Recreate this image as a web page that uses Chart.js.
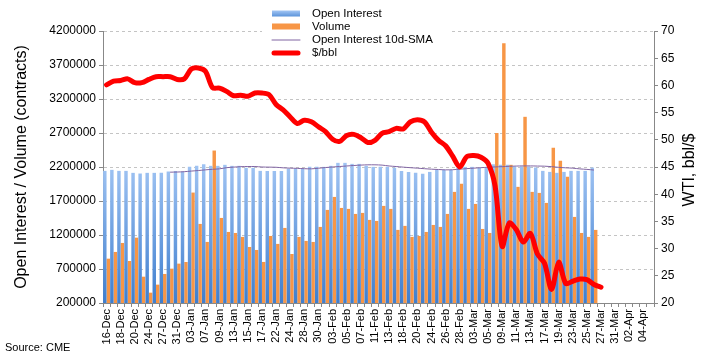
<!DOCTYPE html>
<html lang="en">
<head>
  <meta charset="UTF-8">
  <title>WTI Open Interest / Volume</title>
  <script src="https://cdn.jsdelivr.net/npm/chart.js"></script>
  <style>
    body {
      margin: 0;
      background: #fff;
    }
    #oilChart {
      display: block;
    }
  </style>
</head>
<body>
  <canvas id="oilChart" width="702" height="360"></canvas>

  <script>
    // trading days on the x axis (only every other one is labelled)
    const dates = [
      '16-Dec','17-Dec','18-Dec','19-Dec','20-Dec','23-Dec','24-Dec','26-Dec','27-Dec','30-Dec','31-Dec',
      '02-Jan','03-Jan','06-Jan','07-Jan','08-Jan','09-Jan','10-Jan','13-Jan','14-Jan','15-Jan','16-Jan',
      '17-Jan','21-Jan','22-Jan','23-Jan','24-Jan','27-Jan','28-Jan','29-Jan','30-Jan','31-Jan',
      '03-Feb','04-Feb','05-Feb','06-Feb','07-Feb','10-Feb','11-Feb','12-Feb','13-Feb','14-Feb',
      '18-Feb','19-Feb','20-Feb','21-Feb','24-Feb','25-Feb','26-Feb','27-Feb','28-Feb',
      '02-Mar','03-Mar','04-Mar','05-Mar','06-Mar','09-Mar','10-Mar','11-Mar','12-Mar','13-Mar',
      '16-Mar','17-Mar','18-Mar','19-Mar','20-Mar','23-Mar','24-Mar','25-Mar','26-Mar','27-Mar',
      '30-Mar','31-Mar','01-Apr','02-Apr','03-Apr','04-Apr','05-Apr'
    ];

    const openInterest = [
      2143000, 2158000, 2143000, 2143000, 2114000, 2104000, 2114000, 2114000, 2114000, 2133000,
      2143000, 2133000, 2202000, 2217000, 2242000, 2217000, 2217000, 2232000, 2217000, 2217000,
      2188000, 2188000, 2143000, 2143000, 2143000, 2143000, 2173000, 2173000, 2173000, 2202000,
      2202000, 2202000, 2217000, 2261000, 2261000, 2246000, 2246000, 2217000, 2202000, 2202000,
      2202000, 2188000, 2143000, 2128000, 2114000, 2099000, 2128000, 2158000, 2158000, 2158000,
      2188000, 2202000, 2202000, 2188000, 2188000, 2240000, 2232000, 2232000, 2207000, 2207000,
      2207000, 2192000, 2143000, 2128000, 2114000, 2128000, 2143000, 2143000, 2143000, 2192000
    ];

    const volume = [
      852000, 951000, 1083000, 818000, 1161000, 587000, 352000, 470000, 627000, 705000,
      779000, 803000, 1824000, 1363000, 1098000, 2442000, 1451000, 1245000, 1230000, 1172000,
      1024000, 980000, 804000, 1186000, 1069000, 1304000, 921000, 1172000, 1113000, 1098000,
      1319000, 1569000, 1760000, 1598000, 1584000, 1510000, 1525000, 1422000, 1407000, 1628000,
      1584000, 1275000, 1334000, 1172000, 1186000, 1245000, 1348000, 1319000, 1510000, 1834000,
      1952000, 1584000, 1657000, 1289000, 1230000, 2700000, 4020000, 2232000, 1908000, 2938000,
      1834000, 1819000, 1672000, 2482000, 2291000, 2055000, 1466000, 1230000, 1172000, 1275000
    ];

    // 10-day SMA of open interest, starts on the 10th day
    const oiSma = [
      null, null, null, null, null, null, null, null, null, 2124000,
      2126000, 2131000, 2140000, 2148000, 2158000, 2166000, 2173000, 2190000, 2198000, 2205000,
      2207000, 2207000, 2200000, 2198000, 2196000, 2188000, 2183000, 2180000, 2175000, 2173000,
      2182000, 2192000, 2200000, 2207000, 2215000, 2222000, 2228000, 2232000, 2232000, 2228000,
      2215000, 2207000, 2198000, 2190000, 2183000, 2175000, 2168000, 2163000, 2158000, 2160000,
      2168000, 2176000, 2183000, 2190000, 2196000, 2201000, 2205000, 2210000, 2214000, 2216000,
      2216000, 2214000, 2212000, 2205000, 2195000, 2188000, 2183000, 2172000, 2165000, 2155000
    ];

    // WTI $/bbl
    const wti = [
      60.1, 60.8, 60.9, 61.2, 60.5, 60.5, 61.1, 61.6, 61.6, 61.6,
      61.1, 61.2, 63.0, 63.2, 62.6, 59.6, 59.5, 58.9, 58.1, 58.2,
      58.0, 58.6, 58.6, 58.3, 56.5, 55.5, 54.2, 53.0, 53.6, 53.3,
      52.4, 51.5, 50.1, 49.7, 50.8, 51.0, 50.4, 49.5, 49.9, 51.2,
      51.5, 52.1, 52.0, 53.3, 53.7, 53.3, 51.4, 49.9, 48.9, 47.0,
      45.0, 46.9, 47.1, 46.8, 45.7, 41.5, 30.4, 34.7, 33.5, 31.2,
      32.8, 29.0, 27.3, 22.5, 27.5, 23.6, 24.0, 24.4, 24.3, 23.4,
      22.9
    ];

    const FONT = 'Arial, "Liberation Sans", sans-serif';
    Chart.defaults.font.family = FONT;
    Chart.defaults.color = '#000';

    function blueFill(context) {
      const chart = context.chart;
      const area = chart.chartArea;
      if (!area) return '#7aa9e6';
      const g = chart.ctx.createLinearGradient(0, 160, 0, area.bottom);
      g.addColorStop(0, '#a3c6f4');
      g.addColorStop(1, '#3e7ecf');
      return g;
    }

    // legend box, right axis title and source note drawn on top
    const extras = {
      id: 'extras',
      afterDraw(chart) {
        const c = chart.ctx;
        c.save();
        c.fillStyle = '#fff';
        c.fillRect(262, 0, 190, 59);
        const rows = [
          { text: 'Open Interest', y: 13.5, kind: 'blue' },
          { text: 'Volume', y: 26.5, kind: 'orange' },
          { text: 'Open Interest 10d-SMA', y: 40, kind: 'purple' },
          { text: '$/bbl', y: 53, kind: 'red' }
        ];
        rows.forEach(r => {
          if (r.kind === 'blue') {
            const g = c.createLinearGradient(0, r.y - 3, 0, r.y + 3);
            g.addColorStop(0, '#a3c6f4');
            g.addColorStop(1, '#5b93da');
            c.fillStyle = g;
            c.fillRect(272, r.y - 3, 28, 6);
          } else if (r.kind === 'orange') {
            c.fillStyle = '#f79646';
            c.fillRect(272, r.y - 3, 28, 6);
          } else {
            c.beginPath();
            c.moveTo(r.kind === 'red' ? 274 : 272, r.y);
            c.lineTo(r.kind === 'red' ? 298 : 300, r.y);
            c.lineWidth = r.kind === 'red' ? 5 : 1;
            c.lineCap = 'round';
            c.strokeStyle = r.kind === 'red' ? '#ff0000' : '#8064a2';
            c.stroke();
          }
          c.fillStyle = '#000';
          c.font = '11.5px ' + FONT;
          c.textBaseline = 'middle';
          c.textAlign = 'left';
          c.fillText(r.text, 312, r.y);
        });

        // right axis title reads bottom-to-top like the left one
        c.save();
        c.translate(690, 170);
        c.rotate(-Math.PI / 2);
        c.font = '16px ' + FONT;
        c.textAlign = 'center';
        c.textBaseline = 'middle';
        c.fillText('WTI, bbl/$', 0, 0);
        c.restore();

        c.font = '11px ' + FONT;
        c.textAlign = 'left';
        c.textBaseline = 'alphabetic';
        c.fillText('Source: CME', 5, 351);
        c.restore();
      }
    };

    const ctx = document.getElementById('oilChart').getContext('2d');

    new Chart(ctx, {
      type: 'bar',
      data: {
        labels: dates,
        datasets: [
          {
            label: '$/bbl',
            type: 'line',
            data: wti,
            yAxisID: 'y1',
            borderColor: '#ff0000',
            borderWidth: 5,
            borderCapStyle: 'round',
            borderJoinStyle: 'round',
            pointRadius: 0,
            tension: 0.3,
            order: 0
          },
          {
            label: 'Open Interest 10d-SMA',
            type: 'line',
            data: oiSma,
            yAxisID: 'y',
            borderColor: '#8064a2',
            borderWidth: 1,
            pointRadius: 0,
            tension: 0.3,
            order: 1
          },
          {
            label: 'Open Interest',
            data: openInterest,
            yAxisID: 'y',
            backgroundColor: blueFill,
            categoryPercentage: 0.98,
            barPercentage: 1.0,
            order: 2
          },
          {
            label: 'Volume',
            data: volume,
            yAxisID: 'y',
            backgroundColor: '#f79646',
            categoryPercentage: 0.98,
            barPercentage: 1.0,
            order: 3
          }
        ]
      },
      options: {
        responsive: false,
        animation: false,
        layout: { padding: { top: 31, left: 0, right: 0, bottom: 0 } },
        plugins: {
          legend: { display: false },
          tooltip: { enabled: false }
        },
        scales: {
          x: {
            grid: { drawOnChartArea: false, tickLength: 4, tickColor: '#888' },
            border: { color: '#888' },
            ticks: {
              autoSkip: false,
              maxRotation: 90,
              minRotation: 90,
              padding: 2,
              font: { size: 11 },
              callback: function (v, i) {
                return i % 2 === 0 ? this.getLabelForValue(v) : '';
              }
            },
            afterFit(scale) { scale.height = 57; }
          },
          y: {
            position: 'left',
            min: 200000,
            max: 4200000,
            grid: { color: '#c4c4c4', tickLength: 4, tickColor: '#888', tickBorderDash: [] },
            border: { color: '#888', dash: [3, 3] },
            ticks: {
              stepSize: 500000,
              padding: 3,
              font: { size: 12 },
              callback: v => String(v)
            },
            title: {
              display: true,
              text: 'Open Interest / Volume (contracts)',
              font: { size: 16 },
              padding: { top: 12, bottom: 0 }
            },
            afterFit(scale) { scale.width = 103; }
          },
          y1: {
            position: 'right',
            min: 20,
            max: 70,
            grid: { drawOnChartArea: false, tickLength: 4, tickColor: '#888' },
            border: { color: '#888' },
            ticks: { stepSize: 5, padding: 3, font: { size: 12 } },
            afterFit(scale) { scale.width = 48; }
          }
        }
      },
      plugins: [extras]
    });
  </script>
</body>
</html>
